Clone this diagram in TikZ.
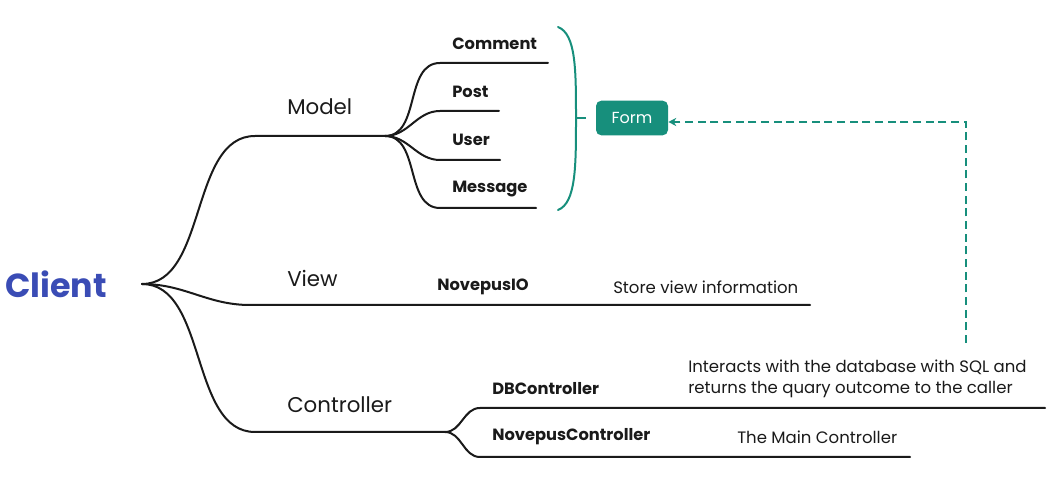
\documentclass[tikz,border=0pt]{standalone}
\usepackage{fontspec}
\setmainfont{Poppins}
\usetikzlibrary{arrows.meta}
\definecolor{formgreen}{HTML}{178F7C}
\definecolor{clientblue}{HTML}{3A4CB5}
\definecolor{inkblack}{HTML}{1A1A1A}
\tikzset{
  branch/.style={line width=1.5pt, inkblack, line cap=round},
  part/.style={font=\fontsize{16}{19}\selectfont, anchor=west, inner sep=0, text=inkblack},
  leaf/.style={font=\bfseries\fontsize{12.2}{14}\selectfont, anchor=west, inner sep=0, text=inkblack},
  note/.style={font=\fontsize{12.4}{16}\selectfont, anchor=west, inner sep=0, align=left, text=inkblack},
}
\begin{document}
\begin{tikzpicture}[x=0.75pt,y=-0.75pt]
    \useasboundingbox (0,0) rectangle (1054,484);
    \node[anchor=west, inner sep=0, text=clientblue, font=\bfseries\fontsize{25}{29}\selectfont] (client) at (5,284) {Client};
    \coordinate (root) at (142,284);
    \coordinate (modelL) at (255,136);
    \coordinate (modelR) at (385,136);
    \coordinate (viewL) at (250,305);
    \coordinate (viewR) at (810,305);
    \coordinate (ctrlL) at (255,432);
    \coordinate (ctrlR) at (445,432);
    \draw[branch] (root) to[out=0,in=180,looseness=0.9] (modelL) -- (modelR);
    \draw[branch] (root) to[out=0,in=180] (viewL) -- (viewR);
    \draw[branch] (root) to[out=0,in=180,looseness=0.9] (ctrlL) -- (ctrlR);
    \node[part] (model) at (287,107) {Model};
    \node[part] (view) at (287,278) {View};
    \node[part] (controller) at (287,405) {Controller};
    \coordinate (commentL) at (440,63);  \coordinate (commentR) at (548,63);
    \coordinate (postL) at (440,111);    \coordinate (postR) at (499,111);
    \coordinate (userL) at (440,160);    \coordinate (userR) at (500,160);
    \coordinate (messageL) at (440,208); \coordinate (messageR) at (536,208);
    \foreach \b in {comment,post,user,message}
        \draw[branch] (modelR) to[out=0,in=180] (\b L) -- (\b R);
    \node[leaf] (comment) at (452,44) {Comment};
    \node[leaf] (post) at (452,92) {Post};
    \node[leaf] (user) at (452,140) {User};
    \node[leaf] (message) at (452,189) {Message};
    \coordinate (brTop) at (558,27);
    \coordinate (brMid) at (576,118);
    \coordinate (brBot) at (558,210);
    \draw[formgreen, line width=1.5pt, line cap=round] (brTop) .. controls (576,34) and (576,70) .. (brMid) .. controls (576,166) and (576,203) .. (brBot);
    \draw[formgreen, line width=1.5pt] (brMid) -- (586,118);
    \node[fill=formgreen, text=white, rounded corners=4pt, minimum width=54pt, minimum height=26pt, inner sep=0, font=\fontsize{12}{14}\selectfont] (form) at (632,118) {Form};
    \node[leaf] (novepusio) at (437,287) {NovepusIO};
    \node[note] (viewnote) at (613,287) {Store view information};
    \coordinate (dbL) at (480,408);   \coordinate (dbR) at (1045,408);
    \coordinate (mainL) at (480,457); \coordinate (mainR) at (910,457);
    \draw[branch] (ctrlR) to[out=0,in=180] (dbL) -- (dbR);
    \draw[branch] (ctrlR) to[out=0,in=180] (mainL) -- (mainR);
    \node[leaf] (dbctrl) at (492,389) {DBController};
    \node[leaf] (mainctrl) at (492,437) {NovepusController};
    \node[note] (dbnote) at (688,379) {Interacts with the database with SQL and\\returns the quary outcome to the caller};
    \node[note] (mainnote) at (737,437) {The Main Controller};
    \coordinate (feedback) at (966,343);
    \draw[formgreen, line width=1.3pt, dash pattern=on 6pt off 3.5pt, -{Stealth[length=6pt,width=6pt]}] (feedback) |- ([yshift=-3pt]form.east);
\end{tikzpicture}
\end{document}
